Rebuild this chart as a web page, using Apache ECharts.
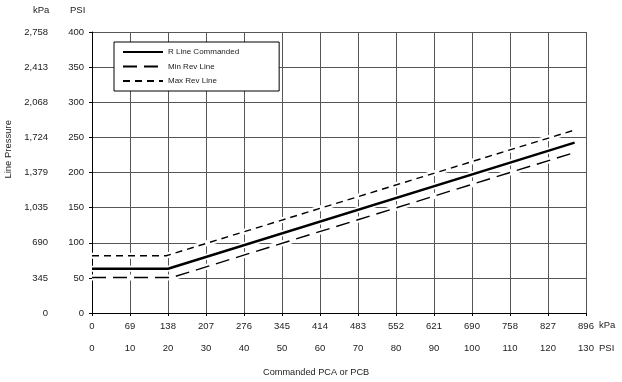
<!DOCTYPE html>
<html>
<head>
<meta charset="utf-8">
<script src="https://cdn.jsdelivr.net/npm/echarts@6/dist/echarts.min.js"></script>
<style>html,body{margin:0;padding:0;background:#fff}#c{width:622px;height:382px}</style>
</head>
<body>
<div id="c"></div>
<script>
// Data
const seriesNames = ['R Line Commanded', 'Min Rev Line', 'Max Rev Line'];
const rLineX = [0, 20, 127];
const rLineY = [63, 63, 242.5];
const minRevX = [0, 21, 127];
const minRevY = [50.5, 50.5, 228.5];
const maxRevX = [0, 19.5, 127];
const maxRevY = [81.5, 81.5, 260.5];
const psiXTicks = [0,10,20,30,40,50,60,70,80,90,100,110,120,130];
const kpaXTicks = ['0','69','138','207','276','345','414','483','552','621','690','758','827','896'];
const psiYTicks = [0,50,100,150,200,250,300,350,400];
const kpaYTicks = ['0','345','690','1,035','1,379','1,724','2,068','2,413','2,758'];

const FONT = 'Liberation Sans, Arial, sans-serif';
const txt = {color:'#222', fontFamily: FONT, fontSize: 9.5};

function pts(xs, ys){ return xs.map((x,i)=>[x, ys[i]]); }
const lines = [
  {name: seriesNames[0], data: pts(rLineX, rLineY), style:{color:'#000', width:2.4, type:'solid'}},
  {name: seriesNames[1], data: pts(minRevX, minRevY), style:{color:'#000', width:1.4, type:[14,7]}},
  {name: seriesNames[2], data: pts(maxRevX, maxRevY), style:{color:'#000', width:1.4, type:[7,5]}}
];
const series = [];
lines.forEach(l => {
  series.push({type:'line', name: l.name + ' halo', data: l.data, symbol:'none', silent:true,
    lineStyle:{color:'#fff', width:6}, z:2, animation:false});
});
lines.forEach(l => {
  series.push({type:'line', name: l.name, data: l.data, symbol:'none', showSymbol:false,
    lineStyle: l.style, itemStyle:{color:'#000'}, z:3, animation:false});
});

const chart = echarts.init(document.getElementById('c'), null, {renderer:'canvas'});
chart.setOption({
  animation:false,
  backgroundColor:'#fff',
  grid:{left:92, right:36, top:32, bottom:69, containLabel:false},
  xAxis:[
    {type:'value', min:0, max:130, interval:10, position:'bottom',
     axisLine:{show:true, lineStyle:{color:'#000', width:1}},
     axisTick:{show:true, length:3, lineStyle:{color:'#000'}},
     splitLine:{show:true, lineStyle:{color:'#555', width:1}},
     axisLabel:{...txt, margin:30, formatter: v => String(psiXTicks[Math.round(v/10)])}},
    {type:'value', min:0, max:130, interval:10, position:'bottom',
     axisLine:{show:false}, axisTick:{show:false}, splitLine:{show:false},
     axisLabel:{...txt, margin:8, formatter: v => kpaXTicks[Math.round(v/10)]}}
  ],
  yAxis:[
    {type:'value', min:0, max:400, interval:50, position:'left',
     axisLine:{show:true, lineStyle:{color:'#000', width:1}},
     axisTick:{show:true, length:3, lineStyle:{color:'#000'}},
     splitLine:{show:true, lineStyle:{color:'#555', width:1}},
     axisLabel:{...txt, margin:8, formatter: v => String(psiYTicks[Math.round(v/50)])}},
    {type:'value', min:0, max:400, interval:50, position:'left',
     axisLine:{show:false}, axisTick:{show:false}, splitLine:{show:false},
     axisLabel:{...txt, margin:44, formatter: v => kpaYTicks[Math.round(v/50)]}}
  ],
  legend:{
    orient:'vertical', left:114, top:42,
    data: seriesNames,
    itemWidth:40, itemHeight:10, itemGap:6.5,
    padding:[6, 40, 6, 8],
    borderColor:'#000', borderWidth:1, backgroundColor:'#fff',
    itemStyle:{opacity:0},
    textStyle:{color:'#222', fontFamily:FONT, fontSize:8},
    selectedMode:false
  },
  series: series,
  graphic:[
    {type:'text', left:33, top:5, style:{text:'kPa', fill:'#222', font:'9.5px '+FONT}},
    {type:'text', left:70, top:5, style:{text:'PSI', fill:'#222', font:'9.5px '+FONT}},
    {type:'text', left:599, top:320, style:{text:'kPa', fill:'#222', font:'9.5px '+FONT}},
    {type:'text', left:599, top:343, style:{text:'PSI', fill:'#222', font:'9.5px '+FONT}},
    {type:'text', left:263, top:368, style:{text:'Commanded PCA or PCB', fill:'#222', font:'9.2px '+FONT}},
    {type:'text', left:3, top:120, rotation:Math.PI/2, style:{text:'Line Pressure', fill:'#222', font:'9.5px '+FONT}}
  ]
});
</script>
</body>
</html>
